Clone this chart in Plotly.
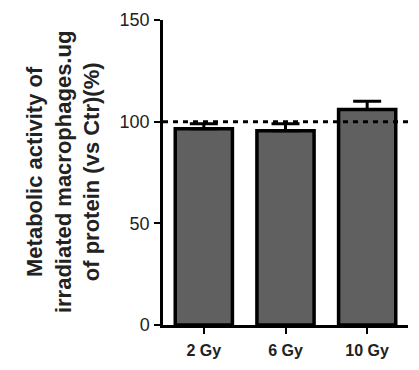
import plotly.graph_objects as go

categories = ["2 Gy", "6 Gy", "10 Gy"]
values = [96.5, 95.5, 106.0]
errors_up = [2.5, 3.5, 4.0]
errors_down = [0, 0, 0]
reference_level = 100
y_ticks = [0, 50, 100, 150]

fig = go.Figure()
fig.add_trace(go.Bar(
    x=categories, y=values, width=0.7,
    marker=dict(color="#606060", line=dict(color="black", width=3.5)),
    error_y=dict(type="data", symmetric=False, array=errors_up, arrayminus=errors_down,
                 color="black", thickness=3, width=14),
))
fig.add_shape(type="line", xref="paper", x0=0, x1=1, yref="y", y0=reference_level, y1=reference_level,
              line=dict(color="black", width=3, dash="5px,5px"), layer="above")

fig.add_annotation(
    text="<b>Metabolic activity of<br>irradiated macrophages.ug<br>of protein (vs Ctr)(%)</b>",
    xref="paper", yref="paper", x=-0.41, y=0.5, xanchor="center", yanchor="middle",
    textangle=-90, showarrow=False, font=dict(family="Arial, Liberation Sans", size=22, color="#222"),
)

fig.update_layout(
    width=419, height=370, margin=dict(l=163, r=11, t=20, b=45),
    plot_bgcolor="white", paper_bgcolor="white", showlegend=False,
    font=dict(family="Arial, Liberation Sans", color="#222"),
)
fig.update_xaxes(range=[-0.5, 2.5], showline=True, linecolor="black", linewidth=2.5,
                 ticks="outside", ticklen=6, tickwidth=2, tickcolor="black",
                 tickfont=dict(size=16), ticklabelstandoff=3,
                 tickprefix="<b>", ticksuffix="</b>", showgrid=False, zeroline=False)
fig.update_yaxes(range=[0, 150], tickvals=y_ticks, showline=True, linecolor="black", linewidth=2.5,
                 ticks="outside", ticklen=6, tickwidth=2, tickcolor="black",
                 tickfont=dict(size=18), ticklabelstandoff=1, tickprefix="<b>", ticksuffix="</b>",
                 showgrid=False, zeroline=False)

fig.write_html("out.html")
